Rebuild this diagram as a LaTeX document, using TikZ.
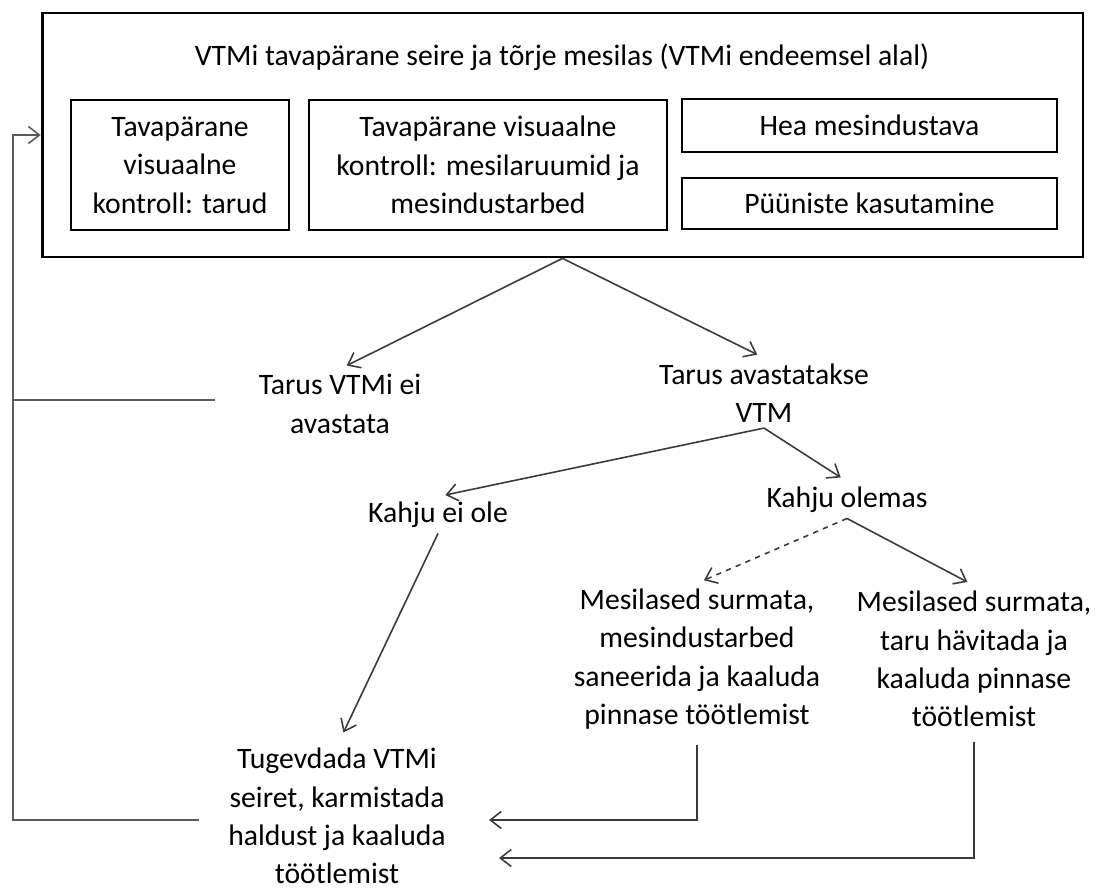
\documentclass[tikz,border=0pt]{standalone}
\usepackage{fontspec}
\setmainfont{Carlito}
\usetikzlibrary{arrows.meta}
\definecolor{cline}{HTML}{3A3A3A}
\definecolor{cback}{HTML}{5A5A5A}
\tikzset{
  every picture/.style={font=\fontsize{16.9}{21.8}\selectfont},
  panel/.style={draw, line width=1.6pt, minimum width=20.82cm, minimum height=4.88cm, inner sep=0pt},
  task/.style={draw, line width=1.6pt, align=center, inner sep=0pt},
  lbl/.style={align=center, inner sep=3pt},
  link/.style={-{Straight Barb[length=2.2mm, width=3.4mm]}, draw=cline, line width=0.9pt, shorten >=1.5mm},
  backline/.style={draw=cback, line width=0.9pt},
}

\begin{document}
\begin{tikzpicture}[x=0.02cm, y=-0.02cm]
  \useasboundingbox (0,0) rectangle (1098,891);
  % monitoring panel
  \node[panel] (outer) at (562.5,135) {};
  \node (title) at (562,57) {VTMi tavapärane seire ja tõrje mesilas (VTMi endeemsel alal)};
  \node[task, minimum width=4.36cm, minimum height=2.6cm] (hive) at (180,165) {Tavapärane\\visuaalne\\kontroll: tarud};
  \node[task, minimum width=7.16cm, minimum height=2.6cm] (yard) at (488,165) {Tavapärane visuaalne\\kontroll: mesilaruumid ja\\mesindustarbed};
  \node[task, minimum width=7.5cm, minimum height=1.06cm] (good) at (869.5,125.5) {Hea mesindustava};
  \node[task, minimum width=7.5cm, minimum height=1.02cm] (traps) at (869.5,203.5) {Püüniste kasutamine};

  % outcomes
  \node[lbl] (noVtm) at (340,404) {Tarus VTMi ei\\avastata};
  \node[lbl] (vtm) at (764,393) {Tarus avastatakse\\VTM};
  \node[lbl] (noDmg) at (438,515) {Kahju ei ole};
  \node[lbl] (dmg) at (847,500) {Kahju olemas};
  \node[lbl] (killA) at (697,659) {Mesilased surmata,\\mesindustarbed\\saneerida ja kaaluda\\pinnase töötlemist};
  \node[lbl] (killB) at (974,659) {Mesilased surmata,\\taru hävitada ja\\kaaluda pinnase\\töötlemist};
  \node[lbl, inner sep=1pt] (tug) at (337,816) {Tugevdada VTMi\\seiret, karmistada\\haldust ja kaaluda\\töötlemist};

  \coordinate (inA) at (489,820);
  \coordinate (inB) at (499,858);
  \coordinate (rail) at (13,400);
  \coordinate (fromNo) at (215,400);
  \coordinate (fromTug) at (199,820);

  \draw[link] (outer.south) -- (noVtm.north);
  \draw[link] (outer.south) -- (vtm.north);
  \draw[link] (vtm.south) -- (noDmg.north);
  \draw[link] (vtm.south) -- (dmg.north);
  \draw[link, shorten >=3mm] (noDmg.south) -- (tug.north);
  \draw[link, dashed] (dmg.south) -- (killA.north);
  \draw[link] (dmg.south) -- (killB.north);
  \draw[link, shorten >=0pt, shorten <=2mm] (killA.south) |- (inA);
  \draw[link, shorten >=0pt, shorten <=2mm] (killB.south) |- (inB);

  % back to monitoring
  \draw[backline] (fromNo) -- (rail);
  \draw[backline, -{Straight Barb[length=2.2mm, width=3.4mm]}] (fromTug) -| (rail) |- (outer.west);
\end{tikzpicture}
\end{document}
